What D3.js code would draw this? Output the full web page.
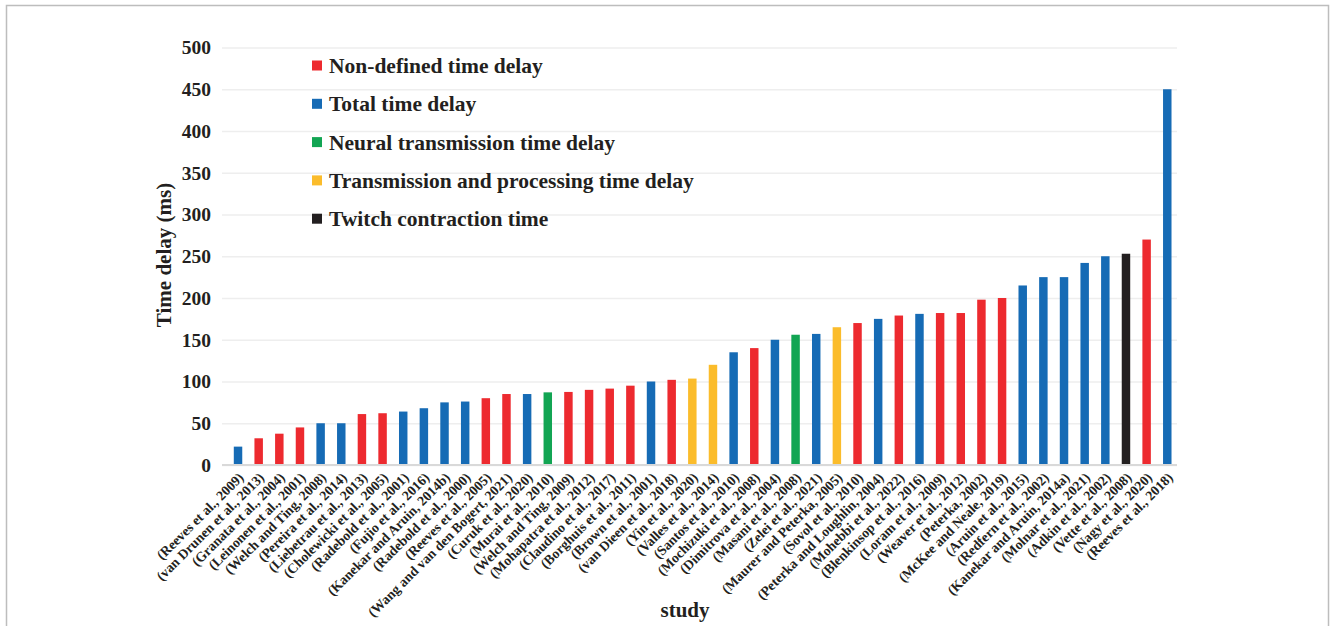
<!DOCTYPE html>
<html>
<head>
<meta charset="utf-8">
<script src="https://cdn.jsdelivr.net/npm/d3@7/dist/d3.min.js"></script>
<style>
  html, body { margin: 0; padding: 0; background: #fff; }
  svg { display: block; }
  svg text { font-family: "Liberation Serif", "Times New Roman", serif; }
</style>
</head>
<body>
<div id="chart"></div>
<script>
const studies = [
  "(Reeves et al., 2009)", "(van Drunen et al., 2013)", "(Granata et al., 2004)", "(Leinonen et al., 2001)",
  "(Welch and Ting, 2008)", "(Pereira et al., 2014)", "(Liebetrau et al., 2013)", "(Cholewicki et al., 2005)",
  "(Radebold et al., 2001)", "(Fujio et al., 2016)", "(Kanekar and Aruin, 2014b)", "(Radebold et al., 2000)",
  "(Reeves et al., 2005)", "(Wang and van den Bogert, 2021)", "(Curuk et al., 2020)", "(Murai et al., 2010)",
  "(Welch and Ting, 2009)", "(Mohapatra et al., 2012)", "(Claudino et al., 2017)", "(Borghuis et al., 2011)",
  "(Brown et al., 2001)", "(van Dieen et al., 2018)", "(Yin et al., 2020)", "(Valles et al., 2014)",
  "(Santos et al., 2010)", "(Mochizuki et al., 2008)", "(Dimitrova et al., 2004)", "(Masani et al., 2008)",
  "(Zelei et al., 2021)", "(Maurer and Peterka, 2005)", "(Sovol et al., 2010)", "(Peterka and Loughlin, 2004)",
  "(Mohebbi et al., 2022)", "(Blenkinsop et al., 2016)", "(Loram et al., 2009)", "(Weaver et al., 2012)",
  "(Peterka, 2002)", "(McKee and Neale, 2019)", "(Aruin et al., 2015)", "(Redfern et al., 2002)",
  "(Kanekar and Aruin, 2014a)", "(Molnar et al., 2021)", "(Adkin et al., 2002)", "(Vette et al., 2008)",
  "(Nagy et al., 2020)", "(Reeves et al., 2018)"
];

const delays = [
  22, 32, 37.5, 45, 50, 50, 61, 62, 64, 68, 75, 76,
  80, 85, 85, 87, 87.5, 90, 91.5, 95, 100, 102, 103.5, 120,
  135, 140, 150, 156, 157, 165, 170, 175, 179, 181, 182, 182,
  198, 200, 215, 225, 225, 242, 250, 253, 270, 450
];

const types = [
  "total", "nondef", "nondef", "nondef", "total", "total", "nondef", "nondef", "total", "total", "total", "total",
  "nondef", "nondef", "total", "neural", "nondef", "nondef", "nondef", "nondef", "total", "nondef", "transproc", "transproc",
  "total", "nondef", "total", "neural", "total", "transproc", "nondef", "total", "nondef", "total", "nondef", "nondef",
  "nondef", "nondef", "total", "total", "total", "total", "total", "twitch", "nondef", "total"
];

const legendKeys = ["nondef", "total", "neural", "transproc", "twitch"];
const legendLabels = [
  "Non-defined time delay", "Total time delay", "Neural transmission time delay",
  "Transmission and processing time delay", "Twitch contraction time"
];
const legendColors = ["#ed2a2f", "#166bb5", "#12a553", "#fbbc2b", "#231f20"];

const yTicks = [0, 50, 100, 150, 200, 250, 300, 350, 400, 450, 500];

const W = 1330, H = 626;
const serif = '"Liberation Serif", "Times New Roman", serif';
const svg = d3.select("#chart").append("svg").attr("width", W).attr("height", H);

// outer frame
svg.append("rect")
  .attr("x", 6.5).attr("y", 5.5)
  .attr("width", 1322).attr("height", H)
  .attr("fill", "none").attr("stroke", "#bdbdbd").attr("stroke-width", 1.5);

const color = d3.scaleOrdinal().domain(legendKeys).range(legendColors);
const x = d3.scaleBand().domain(studies).range([227.7, 1177.6]).paddingInner(0.59).paddingOuter(0.295);
const y = d3.scaleLinear().domain([0, 500]).range([465, 47.5]);

const gridLeft = 222, gridRight = 1177;

// y axis + gridlines
const yAxis = svg.append("g")
  .attr("transform", `translate(${gridLeft},0)`)
  .call(d3.axisLeft(y).tickValues(yTicks).tickSize(-(gridRight - gridLeft)).tickPadding(11));
yAxis.attr("font-family", null);
yAxis.select(".domain").remove();
yAxis.selectAll(".tick line").attr("stroke", "#eeeeee").attr("stroke-width", 1.5);
yAxis.selectAll(".tick text")
  .style("font-family", serif)
  .style("font-size", "19.5px").style("font-weight", "bold").attr("fill", "#231f20");

// bars
svg.append("g").selectAll("rect").data(studies).enter().append("rect")
  .attr("x", d => x(d))
  .attr("width", x.bandwidth())
  .attr("y", (d, i) => y(delays[i]))
  .attr("height", (d, i) => y(0) - y(delays[i]))
  .attr("fill", (d, i) => color(types[i]));

// baseline
svg.append("line")
  .attr("x1", gridLeft).attr("x2", gridRight)
  .attr("y1", y(0)).attr("y2", y(0))
  .attr("stroke", "#d9d9d9").attr("stroke-width", 2);

// x axis labels
const xAxis = svg.append("g")
  .attr("transform", `translate(0,${y(0)})`)
  .call(d3.axisBottom(x).tickSize(0).tickPadding(0));
xAxis.attr("font-family", null);
xAxis.select(".domain").remove();
xAxis.selectAll(".tick text")
  .style("font-family", serif)
  .style("font-size", "13.8px").style("font-weight", "bold").attr("fill", "#231f20")
  .attr("text-anchor", "end")
  .attr("y", null)
  .attr("transform", "translate(3,10) rotate(-45)")
  .attr("dy", "0.35em");

// axis titles
svg.append("text")
  .attr("transform", "translate(171,255) rotate(-90)")
  .attr("text-anchor", "middle")
  .style("font-size", "21px").style("font-weight", "bold").attr("fill", "#231f20")
  .text("Time delay (ms)");

svg.append("text")
  .attr("x", 685).attr("y", 617)
  .attr("text-anchor", "middle")
  .style("font-size", "21px").style("font-weight", "bold").attr("fill", "#231f20")
  .text("study");

// legend
const legend = svg.append("g").selectAll("g").data(legendKeys).enter().append("g")
  .attr("transform", (d, i) => `translate(312,${65.5 + i * 38.3})`);
legend.append("rect")
  .attr("x", 0).attr("y", -5).attr("width", 10).attr("height", 10)
  .attr("fill", d => color(d));
legend.append("text")
  .attr("x", 17).attr("y", 0).attr("dy", "0.35em")
  .style("font-size", "21.5px").style("font-weight", "bold").attr("fill", "#231f20")
  .text((d, i) => legendLabels[i]);
</script>
</body>
</html>
